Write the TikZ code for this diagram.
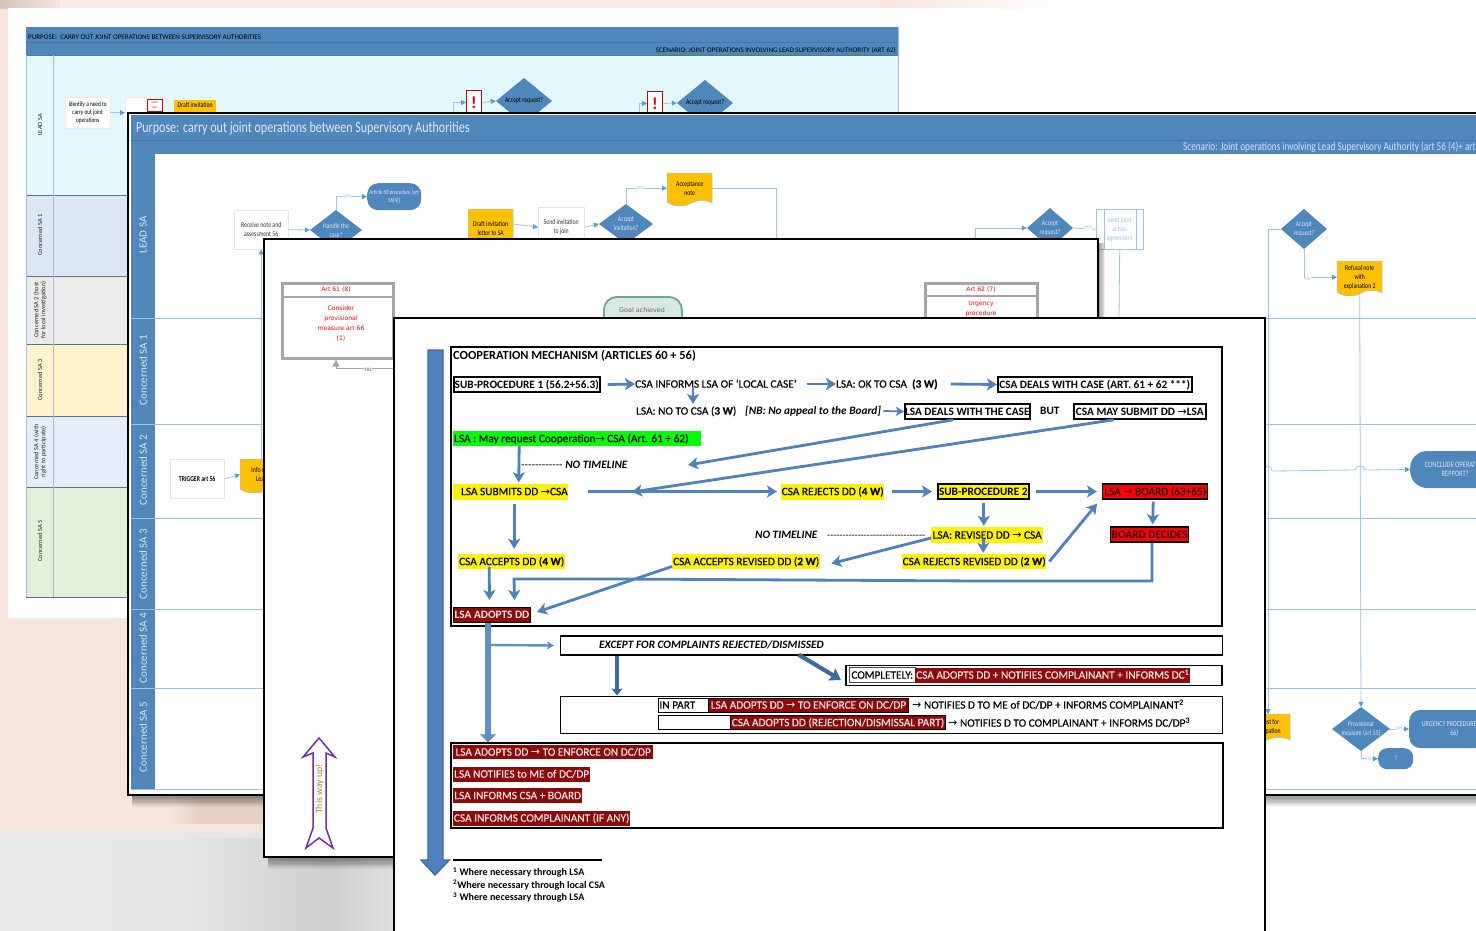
\documentclass[tikz,border=0pt]{standalone}
\usepackage{fontspec}
\setmainfont{Carlito}
\newfontfamily\narrowf[FakeStretch=0.78]{Carlito}
\newfontfamily\semi[FakeBold=0.35]{Carlito}
\newfontfamily\dvf{DejaVu Sans}
\usetikzlibrary{arrows.meta,calc}
\definecolor{headblue}{HTML}{4F87BB}
\definecolor{headline}{HTML}{3F77AB}
\definecolor{lanel}{HTML}{9DBFDF}
\definecolor{linkc}{HTML}{9DC3E6}
\definecolor{linkh}{HTML}{5B9BD5}
\definecolor{flowc}{HTML}{4F81BD}
\definecolor{flowd}{HTML}{3C6A9E}
\definecolor{docf}{HTML}{FFC000}
\definecolor{darkred}{HTML}{8B0A0A}
\definecolor{lighttx}{HTML}{F3E4E4}
\definecolor{pinkbg}{HTML}{F7E4DC}
\definecolor{peachd}{HTML}{E8CFC4}
\definecolor{greyart}{HTML}{A6A6A6}
\definecolor{laneA}{HTML}{E3F8FD}
\definecolor{laneB}{HTML}{DCE6F4}
\definecolor{laneC}{HTML}{EBEBEB}
\definecolor{laneD}{HTML}{FFF2CC}
\definecolor{laneE}{HTML}{E6EDF8}
\definecolor{laneF}{HTML}{E2EFD9}
\definecolor{goalf}{HTML}{D7E9E2}
\definecolor{goald}{HTML}{6FA890}
\definecolor{purp}{HTML}{7030A0}
\definecolor{gold}{HTML}{A98A3A}
\newcommand{\ra}{{\dvf\mdseries\upshape\fontsize{11}{8}\selectfont →}}
\newcommand{\dd}{-\kern0pt}
\newcommand{\softshadow}[4]{\foreach \i in {1,...,9}{\fill[black,opacity=.055] ({#1+4},{#2+4}) rectangle ({#3+0.8*\i},{#4+1.3*\i});}}
% name, cx, cy, half width, half height, text
\newcommand{\diam}[6]{%
  \fill[headblue] ({#2-#4},#3) -- (#2,{#3-#5}) -- ({#2+#4},#3) -- (#2,{#3+#5}) -- cycle;
  \node[dtext,minimum width={2*#4},minimum height={2*#5}] (#1) at (#2,#3) {#6};}
% name, x1, y1, x2, y2, text
\newcommand{\docnode}[6]{%
  \path[fill=docf,draw=linkc,line width=.5pt] (#2,#3) -- (#4,#3) -- (#4,{#5-3})
     .. controls ({#2+0.8*(#4-#2)},{#5-8}) and ({#2+0.6*(#4-#2)},{#5-5}) .. ({#2+0.45*(#4-#2)},{#5-1})
     .. controls ({#2+0.3*(#4-#2)},{#5+1}) and ({#2+0.1*(#4-#2)},{#5}) .. (#2,{#5-4}) -- cycle;
  \node[small,text=black,minimum width={#4-#2},minimum height={#5-#3-3},anchor=north west] (#1) at (#2,#3) {#6};}
\tikzset{
  sz/.style 2 args={minimum width=#1,minimum height=#2},
  tb/.style={anchor=west,inner xsep=0pt,inner ysep=0pt,text height=9.5pt,text depth=2.2pt,font=\semi\fontsize{11.3}{12}\selectfont,text=black},
  boxk/.style={tb,draw=black,line width=1.6pt,fill=white,font=\rmfamily\fontsize{11.3}{12}\selectfont\bfseries},
  bi/.style={tb,font=\rmfamily\fontsize{11.3}{12}\selectfont\bfseries\itshape},
  yel/.style={tb,fill=yellow},
  redb/.style={tb,fill=red,draw=black,line width=1.4pt,text=black!85!red},
  drk/.style={tb,fill=darkred,text=lighttx},
  wht/.style={tb,fill=white},
  frame/.style={draw=black,line width=1.5pt},
  flow/.style={draw=flowc,line width=2.8pt,-{Stealth[length=10pt,width=12pt,inset=2.5pt]}},
  flowthin/.style={draw=flowc,line width=1.8pt,-{Stealth[length=8pt,width=9pt,inset=2pt]}},
  flowline/.style={draw=flowc,line width=2.8pt},
  link/.style={draw=linkc,line width=.8pt},
  linka/.style={draw=linkc,line width=.8pt,-{Triangle[length=5pt,width=5pt,fill=linkh,color=linkh]}},
  small/.style={inner sep=0pt,align=center,font=\narrowf\fontsize{7.4}{9}\selectfont,text=black!80},
  dtext/.style={small,text=white!88!blue},
  tinyb/.style={inner sep=0pt,align=center,font=\fontsize{7.05}{8}\selectfont,text=black},
  lbl/.style={inner sep=.5pt,fill=white,font=\fontsize{5.5}{6}\selectfont,text=linkc},
  pale/.style={draw=lanel,line width=.9pt},
  round/.style={fill=headblue,rounded corners=11pt,align=center,text=white!88!blue,inner sep=1pt,font=\narrowf\fontsize{6.4}{8.5}\selectfont},
  lanetx/.style={rotate=90,inner sep=0pt,font=\fontsize{11}{12}\selectfont,text=white!78!headblue},
  lane1tx/.style={rotate=90,inner sep=0pt,align=center,font=\fontsize{6.4}{7}\selectfont,text=black!85},
  redart/.style={inner sep=0pt,align=center,text=red,font=\dvf\fontsize{6.1}{10}\selectfont},
  artbox/.style={draw=greyart,line width=2.6pt,fill=white},
}
\begin{document}
\begin{tikzpicture}[x=1pt,y=-1pt]
\useasboundingbox (0,0) rectangle (1476,930);
\clip (0,0) rectangle (1476,930);
% ---- background
\fill[pinkbg] (0,0) rectangle (1476,930);
\fill[white] (1000,0) rectangle (1476,930);
\shade[left color=black!14!pinkbg,right color=pinkbg] (0,0) rectangle (60,8);
\shade[left color=pinkbg,right color=white] (880,0) rectangle (1060,8);
\fill[white!30!pinkbg] (60,0) rectangle (880,8);
\shade[left color=pinkbg,right color=peachd] (170,790) rectangle (200,826);
\fill[peachd] (200,790) rectangle (400,826);
\shade[top color=pinkbg,bottom color=black!10] (0,824) rectangle (400,838);
\shade[left color=black!9,right color=black!10] (0,838) rectangle (180,930);
\shade[left color=black!10,right color=black!19] (180,838) rectangle (330,930);
\shade[left color=black!19,right color=black!12] (330,838) rectangle (400,930);
% ---- back slide
\fill[white] (8,8) rectangle (1000,618);
% ---- panel 1
\fill[headblue] (26,27) rectangle (898,55);
\draw[headline,line width=.5pt] (26,42) -- (898,42);
\node[tinyb,anchor=west] (p1title) at (28,37) {PURPOSE:\ \ CARRY OUT JOINT OPERATIONS BETWEEN SUPERVISORY AUTHORITIES};
\node[tinyb,anchor=east] (p1scen) at (896,50) {SCENARIO: JOINT OPERATIONS INVOLVING LEAD SUPERVISORY AUTHORITY (ART 62)};
\fill[laneA] (26,55) rectangle (898,195);
\fill[laneB] (26,195) rectangle (898,276);
\fill[laneC] (26,276) rectangle (898,344);
\fill[laneD] (26,344) rectangle (898,416);
\fill[laneE] (26,416) rectangle (898,487);
\fill[laneF] (26,487) rectangle (898,597);
\foreach \yy in {55,195,276,344,416,487,597}{\draw[black!40!lanel,line width=.7pt] (26,\yy) -- (898,\yy);}
\draw[lanel,line width=.8pt] (26,55) -- (26,597) (53,55) -- (53,597) (898,27) -- (898,597);
\node[lane1tx] (l1a) at (40,125) {LEAD SA};
\node[lane1tx] (l1b) at (40,235) {Concerned SA 1};
\node[lane1tx] (l1c) at (40,310) {Concerned SA 2 (host\\for local investigation)};
\node[lane1tx] (l1d) at (40,380) {Concerned SA 3};
\node[lane1tx] (l1e) at (40,452) {Concerned SA 4 (with\\right to participate)};
\node[lane1tx] (l1f) at (40,541) {Concerned SA 5};
\node[small,fill=white,draw=black!8,sz={45}{31},anchor=north west,text=black,font=\narrowf\fontsize{6.8}{8.2}\selectfont] (identify) at (65,97) {identify a need to\\carry out joint\\operations};
\node[fill=white,draw=black!8,sz={37}{31},anchor=north west,inner sep=0pt] (morebox) at (125,97) {};
\node[draw=red!80!black,fill=white,sz={15}{12},anchor=north west,inner sep=0pt,text=red,align=center,font=\narrowf\fontsize{3.6}{4.6}\selectfont] (moreinfo) at (147,99) {more\\info};
\node[small,fill=docf,sz={42}{24},anchor=north west,text=black,text depth=14pt] (draftinv) at (174,100) {Draft invitation};
\draw[linka] (identify.east) -- (morebox.west);
\coordinate (r1in) at (453,113);
\coordinate (r2in) at (639,113);
\node[draw=red!75!black,line width=1pt,fill=white,sz={15}{24},anchor=north west,inner sep=0pt,text=red!80!black,font=\bfseries\fontsize{17}{17}\selectfont] (alert1) at (466,90) {!};
\node[draw=red!75!black,line width=1pt,fill=white,sz={15}{24},anchor=north west,inner sep=0pt,text=red!80!black,font=\bfseries\fontsize{17}{17}\selectfont] (alert2) at (647,91) {!};
\diam{ad1}{524}{101}{28}{23}{\textcolor{black}{Accept request?}}
\diam{ad2}{705}{103}{28}{23}{\textcolor{black}{Accept request?}}
\draw[linka] (r1in) |- (alert1.west);
\draw[linka] (r2in) |- (alert2.west);
\draw[linka] (alert1.east) -- (ad1.west);
\draw[linka] (alert2.east) -- (ad2.west);
% ---- panel 2
\softshadow{128}{113}{1500}{795}
\fill[white] (128,113) rectangle (1500,795);
\fill[headblue] (131,115) rectangle (1500,154);
\draw[headline,line width=.6pt] (131,140) -- (1500,140);
\fill[headblue] (131,154) rectangle (155,789);
\node[anchor=west,inner sep=0pt,text=white!90!blue,font=\narrowf\fontsize{15.4}{15}\selectfont] (p2title) at (136,128) {Purpose: carry out joint operations between Supervisory Authorities};
\node[anchor=west,inner sep=0pt,text=white!85!blue,font=\narrowf\fontsize{11.8}{12}\selectfont] (p2scen) at (1183,147) {Scenario: Joint operations involving Lead Supervisory Authority (art 56 (4)+ art 62)};
\foreach \yy in {318,424,518,609,688,789}{\draw[pale] (131,\yy) -- (1500,\yy);}
\draw[black,line width=2pt] (128,113) rectangle (1500,795);
\node[lanetx] (l2a) at (143,235) {LEAD SA};
\node[lanetx] (l2b) at (143,370) {Concerned SA 1};
\node[lanetx] (l2c) at (143,470) {Concerned SA 2};
\node[lanetx] (l2d) at (143,564) {Concerned SA 3};
\node[lanetx] (l2e) at (143,648) {Concerned SA 4};
\node[lanetx] (l2f) at (143,737) {Concerned SA 5};
% lead lane
\node[small,draw=black!10,fill=white,sz={54}{39},anchor=north west] (recv) at (234,210) {Receive note and\\assessment 56};
\diam{handle}{336}{230}{26}{20}{Handle the\\case?}
\node[round,sz={54}{27},anchor=north west] (art60) at (367,183) {Article 60 procedure (art\\56(4))};
\draw[linka] (recv.east) -- (handle.west);
\draw[linka] (handle.north) |- (art60.west);
\node[lbl] (yes1) at (347,197) {yes};
\docnode{draft}{468}{209}{513}{250}{Draft invitation\\letter to SA}
\node[small,draw=black!10,fill=white,sz={46}{40},anchor=north west] (send) at (538,207) {Send invitation\\to join};
\diam{acci}{626}{224}{27}{20}{Accept\\invitation?}
\docnode{accnote}{667}{173}{712}{206}{Acceptance\\note}
\draw[linka] (513,224) -- (send.west);
\draw[linka] (send.east) -- (acci.west);
\draw[linka] (acci.north) |- (accnote.west);
\node[lbl] (yes2) at (640,189) {yes};
\coordinate (drop1) at (776,240);
\draw[link] (accnote.east) -| (drop1);
\coordinate (in2) at (975,240);
\diam{accr}{1050}{228}{23}{20}{Accept\\request?}
\draw[linka] (in2) |- (accr.west);
\node[small,draw=linkc,fill=white,text=linkc,sz={47}{40},anchor=north west] (joint) at (1096,209) {Send joint\\action\\agreement};
\draw[link] (1104,209) -- (1104,249) (1136,209) -- (1136,249);
\draw[link] (accr.east) -- (joint.west);
\node[lbl] (yes3) at (1088,228) {yes};
\coordinate (jdown) at (1119,318);
\draw[link] (joint.south) -- (jdown);
\diam{accr2}{1304}{229}{23}{20}{Accept\\request?}
\docnode{refusal}{1337}{261}{1382}{296}{Refusal note\\with\\explanation 2}
\draw[linka] (accr2.south) |- (refusal.west);
\node[lbl] (no2) at (1308,279) {no};
\docnode{info}{240}{459}{290}{493}{Info note to\\Lead SA}
\node[small,draw=black!10,fill=white,sz={54}{39},anchor=north west,text=black,font=\narrowf\bfseries\fontsize{7.4}{9}\selectfont] (trigger) at (170,459) {TRIGGER art 56};
\draw[linka] (trigger.east) -- (info.west);
\draw[linka] (recv.south |- info.north) -- (recv.south);
% lower right
\docnode{part}{1241}{714}{1290}{743}{Request for\\participation}
\draw[linka] (accr2.west) -| (part.north -| 1268,714);
\diam{prov}{1361}{729}{29}{22}{Provisional\\measure (art 55)}
\draw[linka] (refusal.south) -- (prov.north);
\node[round,sz={90}{38},anchor=west,font=\narrowf\fontsize{7.6}{9}\selectfont] (urg) at (1409,729) {URGENCY PROCEDURE (art\\66)};
\draw[linka] (prov.east) -- (urg.west);
\node[lbl] (yes4) at (1399,729) {yes};
\node[round,sz={35}{21},anchor=north west,rounded corners=9pt] (qm) at (1378,748) {?};
\draw[linka] (prov.south) |- (qm.west);
\node[lbl] (no3) at (1369,759) {no};
\node[round,sz={90}{37},anchor=west,rounded corners=17pt,font=\narrowf\fontsize{8.2}{9.5}\selectfont] (concl) at (1410,469.5) {CONCLUDE OPERATION\\REPPORT?};
\coordinate (cin) at (1262,470);
\draw[linka] (cin) -- (1264,470) to[out=80,in=180] (1268,466) to[out=0,in=100] (1272,471) -- (1355,470) to[out=80,in=180] (1360,466) to[out=0,in=100] (1365,470) -- (concl.west);
% ---- panel 3
\softshadow{264}{239}{1098}{857}
\fill[white] (264,239) rectangle (1098,857);
\draw[black,line width=2pt] (264,239) rectangle (1098,857);
\node[artbox,sz={111}{75},anchor=north west,inner sep=0pt] (art61) at (281,282) {};
\draw[greyart,line width=2.6pt] (281,297) -- (392,297);
\node[redart] (art61a) at (336,289.5) {Art 61 (8)};
\node[redart] (art61b) at (341,324) {Consider\\provisional\\measure art 66\\(1)};
\node[artbox,sz={112}{60},anchor=north west,inner sep=0pt] (art62) at (924,282) {};
\draw[greyart,line width=2.6pt] (924,296) -- (1036,296);
\node[redart] (art62a) at (981,289.5) {Art 62 (7)};
\node[redart] (art62b) at (981,309) {Urgency\\procedure};
\node[draw=goald,line width=1.8pt,fill=goalf,rounded corners=13pt,sz={78}{36},anchor=north west,inner sep=0pt] (goal) at (603,296) {};
\node[inner sep=0pt,text=black!60,font=\dvf\fontsize{6.4}{8}\selectfont] (goalt) at (642,310.5) {Goal achieved};
\coordinate (nofrom) at (394,368);
\draw[draw=greyart,line width=.9pt,-{Triangle[length=7pt,width=7pt]}] (nofrom) -| (art61.south -| 336,358);
\node[inner sep=.5pt,fill=white,text=black!60,font=\dvf\fontsize{6}{6}\selectfont] (nolab) at (368,370) {no};
\draw[draw=purp,line width=1.5pt,fill=white] (319,738) -- (335,757) -- (326,753) -- (326,828) -- (333,848) -- (319,838) -- (306,848) -- (313,828) -- (313,753) -- (303,757) -- cycle;
\node[rotate=90,inner sep=0pt,text=gold,font=\fontsize{9.8}{10}\selectfont] (wayup) at (319.5,789) {This way up!};
% ---- panel 4
\fill[white] (394,318) rectangle (1265,960);
\draw[black,line width=2pt] (394,318) rectangle (1265,960);
\draw[draw=flowd,line width=1.3pt,fill=flowc] (428,350) -- (443,350) -- (443,860) -- (449.5,860) -- (435,875) -- (421,860) -- (428,860) -- cycle;
% box A
\draw[frame] (451,347) rectangle (1222,626);
\node[tb,font=\fontsize{12.4}{12}\selectfont\bfseries] (title) at (453,356) {COOPERATION MECHANISM (ARTICLES 60 + 56)};
\node[boxk,sz={146}{15}] (sp1) at (453,384.5) {SUB-PROCEDURE 1 (56.2+56.3)};
\node[tb] (inform) at (635,384) {CSA INFORMS LSA OF ‘LOCAL CASE’};
\node[tb] (okcsa) at (836,384) {LSA: OK TO CSA\ \ \textbf{(3 W)}};
\node[boxk,sz={194}{15}] (csadeal) at (997,384.5) {CSA DEALS WITH CASE (ART. 61 + 62 ***)};
\node[tb] (nocsa) at (636,411) {LSA: NO TO CSA (\textbf{3 W})};
\node[bi] (nb) at (745,411) {[NB: No appeal to the Board]};
\node[boxk,sz={125}{15}] (lsadeal) at (904,411.5) {LSA DEALS WITH THE CASE};
\node[tb,font=\rmfamily\fontsize{11.3}{12}\selectfont\bfseries] (but) at (1040,411) {BUT};
\node[boxk,sz={132}{15}] (maysub) at (1073,411.5) {CSA MAY SUBMIT DD \ra LSA};
\node[tb,fill=green,sz={248}{15}] (req) at (453,438.5) {\makebox[246pt][l]{LSA : May request Cooperation\ra\ CSA (Art. 61 + 62)}};
\node[bi] (nt1) at (521,465) {{\mdseries\upshape\dd\dd\dd\dd\dd\dd\dd\dd\dd\dd\dd\dd} NO TIMELINE};
\node[yel,sz={115}{16}] (submit) at (453,491.5) {\makebox[114pt][r]{LSA SUBMITS DD \ra CSA}};
\node[yel,sz={103}{16}] (rej) at (781,491.5) {CSA REJECTS DD (\textbf{4 W})};
\node[boxk,fill=yellow,sz={91}{15}] (sp2) at (937,491.5) {SUB-PROCEDURE 2};
\node[redb,sz={105}{15}] (board) at (1102,491.5) {LSA \ra\ BOARD (63+65)};
\node[bi] (nt2) at (755,535) {NO TIMELINE};
\coordinate (dashes) at (827,535);
\node[tb,font=\rmfamily\fontsize{10}{10}\selectfont] (dashtx) at (dashes) {\dd\dd\dd\dd\dd\dd\dd\dd\dd\dd\dd\dd\dd\dd\dd\dd\dd\dd\dd\dd\dd\dd\dd\dd\dd\dd\dd\dd\dd\dd\dd\dd};
\node[yel,sz={112}{16}] (revised) at (931,535) {LSA: REVISED DD \ra\ CSA};
\node[redb,sz={78}{15},font=\rmfamily\fontsize{11.3}{12}\selectfont\bfseries] (decides) at (1110,534.5) {BOARD DECIDES};
\node[yel,sz={107}{15}] (accepts) at (458,561.5) {CSA ACCEPTS DD (\textbf{4 W})};
\node[yel,sz={148}{15}] (accrev) at (672,561.5) {CSA ACCEPTS REVISED DD (\textbf{2 W})};
\node[yel,sz={144}{15}] (rejrev) at (902,561.5) {CSA REJECTS REVISED DD (\textbf{2 W})};
\node[drk,draw=black,line width=1pt,sz={77}{15},font=\rmfamily\fontsize{11.3}{12}\selectfont\bfseries] (adopts) at (453,615) {LSA ADOPTS DD};
% flows
\draw[flow] ([xshift=7pt]sp1.east) -- (inform.west);
\draw[flow] ([xshift=10pt]inform.east) -- (okcsa.west);
\draw[flow] ([xshift=13pt]okcsa.east) -- (csadeal.west);
\draw[flow] ([xshift=58pt,yshift=3pt]inform.south west) -- ([xshift=57pt,yshift=1pt]nocsa.north west);
\draw[flowthin] ([xshift=2pt]nb.east) -- (lsadeal.west);
\coordinate (join1) at (688,465);
\draw[flow] ([xshift=-14pt]lsadeal.south) -- (join1);
\coordinate (join2) at (632,492);
\draw[flow] ([xshift=-26pt]maysub.south) -- (join2);
\draw[flow] ([xshift=-58pt]req.south) -- ([xshift=8pt,yshift=1pt]submit.north);
\draw[flow] ([xshift=20pt]submit.east) -- ([xshift=-4pt]rej.west);
\draw[flow] ([xshift=8pt]rej.east) -- ([xshift=-5pt]sp2.west);
\draw[flow] ([xshift=6pt]sp2.east) -- ([xshift=-5pt]board.west);
\draw[flow] ([xshift=-2pt]board.south) ++(0,2) -- ([xshift=3pt,yshift=2pt]decides.north);
\draw[flow] ([xshift=.5pt,yshift=-3pt]sp2.south) -- ([xshift=.5pt,yshift=1pt]sp2.south |- revised.north);
\draw[flow] ([xshift=-4pt,yshift=4pt]revised.south) -- ([xshift=9pt,yshift=1pt]rejrev.north);
\draw[flow] ([xshift=3pt]rejrev.east) -- ([xshift=-5pt,yshift=-4pt]board.south west);
\draw[flow] ([yshift=-3pt]revised.west) -- ([xshift=11pt,yshift=-2pt]accrev.east);
\draw[flow] ([xshift=3.5pt,yshift=-3pt]submit.south) ++(0,1) -- ([xshift=2.5pt,yshift=5pt]accepts.north);
\draw[flow] ([xshift=-22.5pt,yshift=2pt]accepts.south) -- ([xshift=-2.5pt,yshift=7pt]adopts.north);
\coordinate (ra) at (1152,581);
\coordinate (rb) at (980,581);
\coordinate (rc) at (620,579);
\draw[flowline] (decides.south -| ra) -- (ra) -- (rb) -- (rc);
\draw[flow] (rc) -- (514,579) -- ([xshift=22.5pt,yshift=7pt]adopts.north);
\draw[flow] ([yshift=-5pt]accrev.west) -- ([xshift=6pt,yshift=3pt]adopts.east);
% lower boxes
\node[tb,draw=black,line width=1.3pt,sz={662}{19},fill=white] (except) at (560,645.5) {};
\node[bi] (excepttx) at (599,645) {EXCEPT FOR COMPLAINTS REJECTED/DISMISSED};
\node[tb,draw=black,line width=1.9pt,sz={376}{20},fill=white] (compl) at (845,675.5) {};
\node[wht,draw=black!70,line width=.5pt,sz={66}{15}] (compa) at (849,675) {COMPLETELY:};
\node[drk,sz={275}{15}] (compb) at (915,675) {CSA ADOPTS DD + NOTIFIES COMPLAINANT + INFORMS DC\textsuperscript{1}};
\node[tb,draw=black,line width=1pt,sz={662}{37},fill=white] (part2) at (560,714.5) {};
\node[wht,draw=black,line width=1pt,sz={50}{14},anchor=west] (inpart) at (658,705) {\makebox[48pt][l]{IN PART}};
\node[drk,draw=black,line width=1pt,sz={200}{14}] (pa) at (708,705) {LSA ADOPTS DD \ra\ TO ENFORCE ON DC/DP};
\node[tb] (pb) at (912,705) {\ra\ NOTIFIES D TO ME of DC/DP + INFORMS COMPLAINANT\textsuperscript{2}};
\node[wht,draw=black,line width=1pt,sz={72}{14}] (blank) at (658,722.5) {};
\node[drk,draw=black,line width=1pt,sz={215}{14}] (pc) at (730,722.5) {CSA ADOPTS DD (REJECTION/DISMISSAL PART)};
\node[tb] (pd) at (948,723) {\ra\ NOTIFIES D TO COMPLAINANT + INFORMS DC/DP\textsuperscript{3}};
\node[tb,draw=black,line width=1.5pt,sz={772}{85},fill=white] (res) at (450,785.5) {};
\node[drk,sz={200}{14}] (r1) at (453,752) {LSA ADOPTS DD \ra\ TO ENFORCE ON DC/DP};
\node[drk,sz={137}{15}] (r2) at (453,774) {LSA NOTIFIES to ME of DC/DP};
\node[drk,sz={129}{15}] (r3) at (453,795.5) {LSA INFORMS CSA + BOARD};
\node[drk,sz={177}{15}] (r4) at (453,818) {CSA INFORMS COMPLAINANT (IF ANY)};
% lower arrows
\draw[draw=flowc!90!white,line width=6.2pt,-{Stealth[length=8pt,width=16pt,inset=0pt]}] (adopts.south -| 488,623) -- (res.north -| 488,742);
\draw[draw=flowc!90!white,line width=2.4pt,-{Stealth[length=7pt,width=8pt,inset=1.5pt]}] (491,645) -- ([xshift=-6pt]except.west);
\draw[draw=flowd,line width=3.6pt,-{Stealth[length=7pt,width=11pt,inset=1pt]}] (except.south -| 617,655) -- (part2.north -| 617,695);
\draw[draw=flowd,line width=4.2pt,-{Stealth[length=11pt,width=14pt,inset=2pt]}] ([xshift=-93pt]except.south) ++(0,-1) -- ([xshift=-4pt,yshift=-4.5pt]compl.west);
% footnotes
\coordinate (fn1) at (453,860);
\coordinate (fn2) at (602,860);
\draw[black,line width=1.4pt] (fn1) -- (fn2);
\node[tb,font=\fontsize{10.1}{11}\selectfont\bfseries] (f1) at (453,872) {\textsuperscript{1} Where necessary through LSA};
\node[tb,font=\fontsize{10.1}{11}\selectfont\bfseries] (f2) at (453,884.5) {\textsuperscript{2}Where necessary through local CSA};
\node[tb,font=\fontsize{10.1}{11}\selectfont\bfseries] (f3) at (453,897) {\textsuperscript{3} Where necessary through LSA};
\end{tikzpicture}
\end{document}
